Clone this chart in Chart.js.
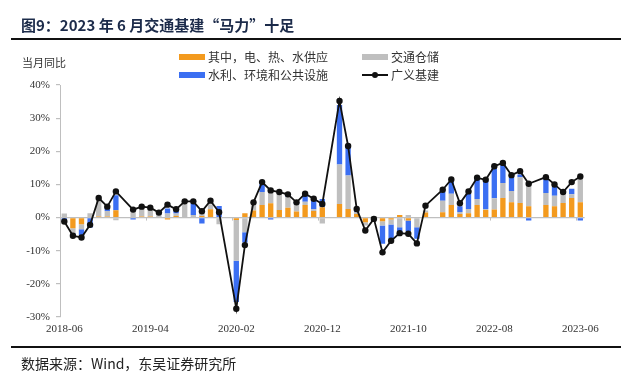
<!DOCTYPE html>
<html><head><meta charset="utf-8">
<script src="https://cdn.jsdelivr.net/npm/chart.js@4"></script>
<style>
html,body{margin:0;padding:0;background:#fff;}
#wrap{position:relative;width:640px;height:383px;overflow:hidden;background:#fff;}
canvas{position:absolute;left:0;top:0;}
.t{position:absolute;white-space:nowrap;font-family:"Noto Sans CJK SC","Noto Sans",sans-serif;color:#333;}
.sw{position:absolute;width:26px;height:6px;}
</style></head><body>
<div id="wrap">
<canvas id="c" width="640" height="383"></canvas>
<div class="t" style="left:21px;top:14px;font-size:15px;line-height:22px;font-weight:bold;color:#1c2b4a;">图9：2023 年 6 月交通基建“马力”十足</div>
<div style="position:absolute;left:11px;top:38px;width:610px;height:2px;background:#111;"></div>
<div class="t" style="left:22px;top:54px;font-size:11px;line-height:16px;">当月同比</div>
<div class="sw" style="left:179px;top:54px;background:#f39a1e;"></div>
<div class="t" style="left:208px;top:49px;font-size:12px;line-height:16px;">其中，电、热、水供应</div>
<div class="sw" style="left:362px;top:54px;background:#bfbfbf;"></div>
<div class="t" style="left:391px;top:49px;font-size:12px;line-height:16px;">交通仓储</div>
<div class="sw" style="left:179px;top:72px;background:#3b6ff2;"></div>
<div class="t" style="left:208px;top:67px;font-size:12px;line-height:16px;">水利、环境和公共设施</div>
<div style="position:absolute;left:362px;top:74px;width:26px;height:2px;background:#111;"></div>
<div style="position:absolute;left:372px;top:72px;width:6px;height:6px;border-radius:3px;background:#111;"></div>
<div class="t" style="left:391px;top:67px;font-size:12px;line-height:16px;">广义基建</div>
<div style="position:absolute;left:11px;top:346px;width:610px;height:2px;background:#111;"></div>
<div class="t" style="left:21px;top:353px;font-size:14px;line-height:20px;color:#222;">数据来源：Wind，东吴证券研究所</div>
</div>
<script>
const months = [
"2018-06","2018-07","2018-08","2018-09","2018-10","2018-11","2018-12",
"2019-01","2019-02","2019-03","2019-04","2019-05","2019-06","2019-07","2019-08","2019-09","2019-10","2019-11","2019-12",
"2020-01","2020-02","2020-03","2020-04","2020-05","2020-06","2020-07","2020-08","2020-09","2020-10","2020-11","2020-12",
"2021-01","2021-02","2021-03","2021-04","2021-05","2021-06","2021-07","2021-08","2021-09","2021-10","2021-11","2021-12",
"2022-01","2022-02","2022-03","2022-04","2022-05","2022-06","2022-07","2022-08","2022-09","2022-10","2022-11","2022-12",
"2023-01","2023-02","2023-03","2023-04","2023-05","2023-06"];
const shownTicks = ["2018-06","2019-04","2020-02","2020-12","2021-10","2022-08","2023-06"];
const yTicks = [-30,-20,-10,0,10,20,30,40];

// 其中，电、热、水供应
const power = [0,-3.2,-2.0,0,0.3,0.3,2.2,
 null,0,0.3,0.3,0,-0.6,0.5,0,0,0.5,2.5,0,
 null,-0.7,1.3,2.1,3.8,4.3,2.3,3.0,1.8,3.8,2.0,3.1,
 null,4.1,2.6,1.1,-1.4,-0.7,-1.1,-0.6,0.8,-0.9,0,1.5,
 null,1.6,3.8,1.1,1.3,3.8,2.3,2.4,5.9,4.6,4.4,3.4,
 null,3.8,3.4,4.4,5.9,4.6];
// 交通仓储
const transport = [1.2,-1.5,-1.5,1.3,5.5,1.7,-0.8,
 null,1.8,2.5,2.3,1.0,1.2,0.7,4.2,0.8,1.5,1.5,-2.0,
 null,-12.3,-4.4,2.3,3.9,3.5,5.0,3.3,2.2,1.0,0.5,-1.8,
 null,11.9,10.1,0.6,-1.0,0.4,-1.3,-1.5,-2.9,0.8,-2.9,0.6,
 null,3.5,3.4,0.6,1.3,1.8,0.3,3.4,4.5,3.4,7.8,6.3,
 null,3.6,3.2,2.6,1.1,7.1];
// 水利、环境和公共设施
const water = [-1.2,-0.5,-2.0,-3.0,0,1.2,4.5,
 null,-0.6,0,0,0.5,1.5,0.8,0,3.5,-1.8,0,3.5,
 null,-12.5,-3.1,0,2.5,-0.6,0,0.5,0.6,2.0,2.7,2.5,
 null,18.0,8.6,0.3,0,0,-5.5,-4.3,-1.5,-3.2,-3.5,0,
 null,2.6,3.5,1.7,4.6,6.4,8.4,9.2,5.6,4.2,0.8,-0.9,
 null,4.3,2.6,0,1.7,-0.9];
// 广义基建
const broad = [-1.2,-5.5,-6.0,-2.2,5.9,3.3,7.9,
 null,2.4,3.3,3.0,1.5,3.9,2.5,4.9,4.9,1.9,5.1,1.6,
 null,-27.5,-8.3,4.6,10.7,8.2,7.7,7.0,4.6,7.2,5.7,4.1,
 null,35.2,21.6,2.6,-3.9,-0.4,-10.5,-7.0,-4.7,-4.9,-7.8,3.6,
 null,8.4,11.5,4.3,7.9,12.0,11.4,15.5,16.5,12.8,14.0,10.2,
 null,12.2,10.0,7.7,10.7,12.4];

const tickFont = {family:"'Liberation Serif','Times New Roman',serif", size:11};

const zeroTicks = {
  id:'zeroTicks',
  afterDatasetsDraw(chart){
    const {ctx} = chart; const x = chart.scales.x, y = chart.scales.y;
    const y0 = y.getPixelForValue(0);
    const half = (x.getPixelForValue(1)-x.getPixelForValue(0))/2;
    ctx.save(); ctx.strokeStyle='#bfbfbf'; ctx.lineWidth=1;
    months.forEach((m,i)=>{ if(shownTicks.includes(m) && i>0){
      const px = Math.round(x.getPixelForValue(i)-half)+0.5;
      ctx.beginPath(); ctx.moveTo(px,y0); ctx.lineTo(px,y0+3); ctx.stroke(); }});
    ctx.restore();
  }
};

new Chart(document.getElementById('c'), {
  data:{
    labels: months,
    datasets:[
      {type:'bar', label:'其中，电、热、水供应', data:power, backgroundColor:'#f39a1e', order:1, stack:'s'},
      {type:'bar', label:'交通仓储', data:transport, backgroundColor:'#bfbfbf', order:1, stack:'s'},
      {type:'bar', label:'水利、环境和公共设施', data:water, backgroundColor:'#3b6ff2', order:1, stack:'s'},
      {type:'line', label:'广义基建', data:broad, borderColor:'#111', backgroundColor:'#111', borderWidth:1.8,
        pointRadius:3.2, pointBackgroundColor:'#111', pointBorderColor:'#111', pointBorderWidth:0,
        spanGaps:true, tension:0, order:0, stack:'l'}
    ]
  },
  options:{
    responsive:false, animation:false,
    layout:{padding:{top:85,right:55.4,bottom:0,left:0}},
    plugins:{legend:{display:false}, tooltip:{enabled:false}},
    datasets:{bar:{categoryPercentage:1, barPercentage:0.62}},
    scales:{
      x:{stacked:true, grid:{display:false, drawTicks:false}, border:{display:false},
        ticks:{autoSkip:false, maxRotation:0, padding:6, font:tickFont, color:'#333',
          callback(v,i){ const m = months[i]; return shownTicks.includes(m) ? m : ''; }},
        afterFit(s){ s.height = 66; }},
      y:{stacked:true, min:-30, max:40, afterBuildTicks(s){ s.ticks = yTicks.map(v=>({value:v})); },
        grid:{color:(c)=> c.tick && c.tick.value===0 ? '#bfbfbf' : 'rgba(0,0,0,0)', lineWidth:1.2,
          drawTicks:true, tickLength:4, tickColor:'#bfbfbf'},
        border:{display:true, color:'#bfbfbf', width:1},
        ticks:{padding:6, font:tickFont, color:'#333', callback:(v)=> v+'%'},
        afterFit(s){ s.width = 60; }}
    }
  },
  plugins:[zeroTicks]
});
</script>
</body></html>
